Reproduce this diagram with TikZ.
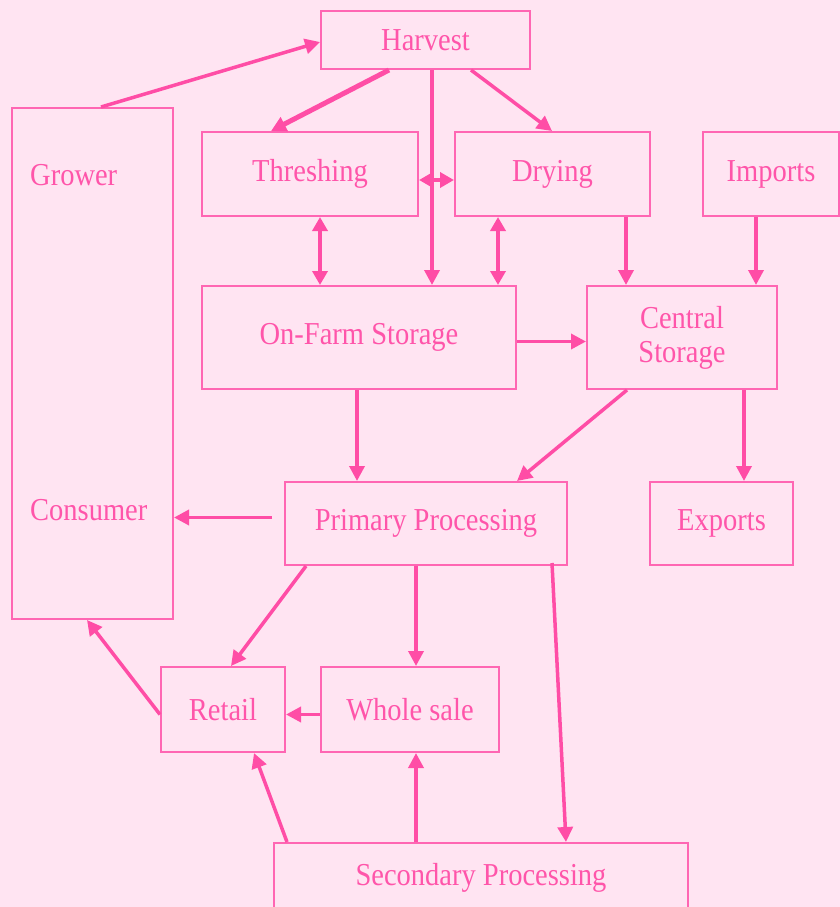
\documentclass[tikz,border=0pt]{standalone}
\usepackage{tikz}
\usepackage{xcolor}
\usepackage{fontspec}
\setmainfont{Liberation Serif}
\usetikzlibrary{arrows.meta}

\definecolor{bgpink}{RGB}{255,228,242}
\definecolor{boxpink}{RGB}{255,102,179}
\definecolor{arrpink}{RGB}{255,77,166}
\definecolor{txtpink}{RGB}{255,85,170}

\newcommand{\tallt}[1]{\scalebox{1}[1.12]{#1}}

\tikzset{
  box/.style={draw=boxpink, line width=2pt, text=txtpink, inner sep=0pt,
    font=\fontsize{28.5}{30}\selectfont},
  lbl/.style={text=txtpink, inner sep=0pt, font=\fontsize{28.5}{30}\selectfont},
  arr/.style={draw=arrpink, line width=3.5pt, -{Triangle[length=15pt,width=15pt]}},
  darr/.style={draw=arrpink, line width=3.5pt, {Triangle[length=14pt,width=15pt]}-{Triangle[length=14pt,width=15pt]}}
}

\begin{document}
\begin{tikzpicture}[x=1pt,y=-1pt]
%background and page size
\fill[bgpink] (0,0) rectangle (840,907);
\useasboundingbox (0,0) rectangle (840,907);

%Shape: boxes
\node[box, minimum width=161pt, minimum height=511pt] (gc) at (92.5,363.5) {};
\node[box, minimum width=209pt, minimum height=58pt] (harvest) at (425.5,40) {\tallt{Harvest}};
\node[box, minimum width=216pt, minimum height=84pt] (threshing) at (310,174) {\tallt{Threshing}};
\node[box, minimum width=195pt, minimum height=84pt] (drying) at (552.5,174) {\tallt{Drying}};
\node[box, minimum width=136pt, minimum height=84pt] (imports) at (771,174) {\tallt{Imports}};
\node[box, minimum width=314pt, minimum height=103pt] (onfarm) at (359,337.5) {\tallt{On-Farm Storage}};
\node[box, minimum width=190pt, minimum height=103pt, align=center] (central) at (682,337.5)
  {\tallt{Central}\\[4pt]\tallt{Storage}};
\node[box, minimum width=282pt, minimum height=83pt] (primary) at (426,523.5) {\tallt{Primary Processing}};
\node[box, minimum width=143pt, minimum height=83pt] (exports) at (721.5,523.5) {\tallt{Exports}};
\node[box, minimum width=124pt, minimum height=85pt] (retail) at (223,709.5) {\tallt{Retail}};
\node[box, minimum width=178pt, minimum height=85pt] (wholesale) at (410,709.5) {\tallt{Whole sale}};
\node[box, minimum width=414pt, minimum height=70pt] (secondary) at (481,878)
  {\raisebox{4pt}{\tallt{Secondary Processing}}};

% Text Node
\node[lbl, anchor=west] (grower) at (30,175) {\tallt{Grower}};
\node[lbl, anchor=west] (consumer) at (30,510) {\tallt{Consumer}};

%Straight Lines
\draw[arr] ([xshift=90pt]gc.north west) -- ([yshift=-2pt]harvest.west);
\draw[arr, line width=5pt] ([xshift=69pt]harvest.south west) -- ([xshift=70pt]threshing.north west);
\draw[arr] ([xshift=112pt]harvest.south west) -- ([xshift=231pt]onfarm.north west);
\draw[arr] ([xshift=151pt]harvest.south west) -- ([xshift=98pt]drying.north west);
\draw[darr] ([yshift=-6pt]threshing.east) -- ([yshift=-6pt]drying.west);
\draw[darr] ([xshift=119pt]threshing.south west) -- ([xshift=119pt]onfarm.north west);
\draw[darr] ([xshift=44pt]drying.south west) -- ([xshift=297pt]onfarm.north west);
\draw[arr] ([xshift=172pt]drying.south west) -- ([xshift=40pt]central.north west);
\draw[arr] ([xshift=54pt]imports.south west) -- ([xshift=170pt]central.north west);
\draw[arr] ([yshift=-4pt]onfarm.east) -- ([yshift=-4pt]central.west);
\draw[arr] ([xshift=156pt]onfarm.south west) -- ([xshift=73pt]primary.north west);
\draw[arr] ([xshift=41pt]central.south west) -- ([xshift=233pt]primary.north west);
\draw[arr] ([xshift=158pt]central.south west) -- ([xshift=95pt]exports.north west);
\draw[arr] ([xshift=-12pt,yshift=6pt]primary.west) -- ([yshift=-154pt]gc.east);
\draw[arr] ([xshift=22pt]primary.south west) -- ([xshift=71pt]retail.north west);
\draw[arr] ([xshift=132pt]primary.south west) -- ([xshift=96pt]wholesale.north west);
\draw[arr] ([xshift=268pt,yshift=3pt]primary.south west) -- ([xshift=293pt]secondary.north west);
\draw[arr] ([yshift=-5pt]wholesale.west) -- ([yshift=-5pt]retail.east);
\draw[arr] ([yshift=-5pt]retail.west) -- ([xshift=76pt]gc.south west);
\draw[arr] ([xshift=14pt]secondary.north west) -- ([xshift=94pt]retail.south west);
\draw[arr] ([xshift=143pt]secondary.north west) -- ([xshift=96pt]wholesale.south west);

\end{tikzpicture}
\end{document}
